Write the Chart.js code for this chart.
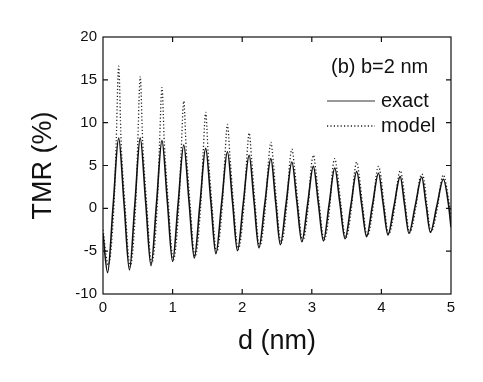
<!DOCTYPE html>
<html>
<head>
<meta charset="utf-8">
<title>TMR vs d</title>
<script src="https://cdn.jsdelivr.net/npm/chart.js@4/dist/chart.umd.min.js"></script>
<style>
  body { margin: 0; background: #fff; }
  #wrap { width: 483px; height: 382px; position: relative; }
</style>
</head>
<body>
<div id="wrap"><canvas id="tmrChart"></canvas></div>
<script>
"use strict";

// thickness d (nm) and TMR (%)
const exactD = [
  0, 0.066, 0.146, 0.225, 0.303,
  0.380, 0.458, 0.535, 0.613,
  0.690, 0.769, 0.847, 0.924,
  1.000, 1.080, 1.160, 1.236,
  1.312, 1.394, 1.475, 1.549,
  1.622, 1.705, 1.788, 1.860,
  1.932, 2.016, 2.100, 2.170,
  2.240, 2.326, 2.412, 2.480,
  2.548, 2.631, 2.714, 2.786,
  2.857, 2.940, 3.022, 3.095,
  3.167, 3.249, 3.330, 3.404,
  3.478, 3.562, 3.645, 3.716,
  3.787, 3.872, 3.958, 4.026,
  4.094, 4.182, 4.270, 4.333,
  4.395, 4.488, 4.580, 4.642,
  4.703, 4.797, 4.890, 4.965, 5.0
];
const exactTMR = [
  -3.0, -7.5, 0.35, 8.2, 0.5,
  -7.2, 0.5, 8.2, 0.75,
  -6.7, 0.6, 7.9, 0.85,
  -6.2, 0.6, 7.4, 0.8,
  -5.8, 0.6, 7.0, 0.85,
  -5.3, 0.65, 6.6, 0.83,
  -4.95, 0.62, 6.2, 0.8,
  -4.6, 0.6, 5.8, 0.78,
  -4.25, 0.57, 5.4, 0.75,
  -3.9, 0.5, 4.9, 0.55,
  -3.8, 0.45, 4.7, 0.58,
  -3.55, 0.37, 4.3, 0.5,
  -3.3, 0.4, 4.1, 0.5,
  -3.1, 0.3, 3.7, 0.4,
  -2.9, 0.37, 3.65, 0.42,
  -2.8, 0.3, 3.4, 0.4, -2.2
];

const modelD = [
  0, 0.076, 0.158, 0.190, 0.225, 0.260, 0.315,
  0.390, 0.470, 0.500, 0.535, 0.570, 0.625,
  0.700, 0.781, 0.812, 0.847, 0.882, 0.936,
  1.010, 1.092, 1.125, 1.160, 1.195, 1.248,
  1.322, 1.406, 1.440, 1.475, 1.510, 1.561,
  1.632, 1.717, 1.753, 1.788, 1.823, 1.872,
  1.942, 2.028, 2.065, 2.100, 2.135, 2.182,
  2.250, 2.338, 2.377, 2.412, 2.447, 2.492,
  2.558, 2.643, 2.679, 2.714, 2.749, 2.798,
  2.867, 2.952, 2.987, 3.022, 3.057, 3.107,
  3.177, 3.261, 3.295, 3.330, 3.365, 3.416,
  3.488, 3.574, 3.610, 3.645, 3.680, 3.728,
  3.797, 3.884, 3.923, 3.958, 3.993, 4.038,
  4.104, 4.194, 4.235, 4.270, 4.305, 4.345,
  4.405, 4.500, 4.545, 4.580, 4.615, 4.654,
  4.713, 4.809, 4.855, 4.890, 4.925, 4.977, 5.0
];
const modelTMR = [
  -2.5, -6.6, 0.4, 7.8, 16.6, 7.8, 0.5,
  -6.8, 0.5, 7.8, 15.4, 7.8, 0.75,
  -6.4, 0.6, 7.5, 14.1, 7.5, 0.85,
  -6.0, 0.6, 7.0, 12.5, 7.0, 0.8,
  -5.6, 0.6, 6.6, 11.2, 6.6, 0.85,
  -5.1, 0.65, 6.2, 9.8, 6.2, 0.83,
  -4.8, 0.62, 5.8, 8.8, 5.8, 0.8,
  -4.45, 0.6, 5.4, 7.7, 5.4, 0.78,
  -4.1, 0.57, 5.0, 6.9, 5.0, 0.75,
  -3.8, 0.5, 4.5, 6.2, 4.5, 0.55,
  -3.7, 0.45, 4.3, 5.8, 4.3, 0.58,
  -3.45, 0.37, 3.9, 5.4, 3.9, 0.5,
  -3.2, 0.4, 3.7, 4.9, 3.7, 0.5,
  -3.0, 0.3, 3.3, 4.4, 3.3, 0.4,
  -2.85, 0.37, 3.25, 4.0, 3.25, 0.42,
  -2.75, 0.3, 3.0, 3.9, 3.0, 0.4, -1.1
];

const xTicks = [0, 1, 2, 3, 4, 5];
const yTicks = [-10, -5, 0, 5, 10, 15, 20];
const panelLabel = "(b) b=2 nm";

const FONT = "Arial, 'Liberation Sans', sans-serif";

function toPoints(xs, ys) {
  let pts = [];
  for (let i = 0; i < xs.length; i++) {
    pts.push({ x: xs[i], y: ys[i] });
  }
  return pts;
}

// frame with inward ticks on all four sides, plus the in-plot legend
const framePlugin = {
  id: "frame",
  afterDraw(chart) {
    const ctx = chart.ctx;
    const area = chart.chartArea;
    const xs = chart.scales.x;
    const ys = chart.scales.y;
    const tick = 5;

    ctx.save();
    ctx.strokeStyle = "#111";
    ctx.lineWidth = 1.2;
    ctx.strokeRect(area.left, area.top, area.right - area.left, area.bottom - area.top);

    ctx.beginPath();
    for (let i = 1; i < xTicks.length - 1; i++) {
      const px = xs.getPixelForValue(xTicks[i]);
      ctx.moveTo(px, area.bottom);
      ctx.lineTo(px, area.bottom - tick);
      ctx.moveTo(px, area.top);
      ctx.lineTo(px, area.top + tick);
    }
    for (let i = 1; i < yTicks.length - 1; i++) {
      const py = ys.getPixelForValue(yTicks[i]);
      ctx.moveTo(area.left, py);
      ctx.lineTo(area.left + tick, py);
      ctx.moveTo(area.right, py);
      ctx.lineTo(area.right - tick, py);
    }
    ctx.stroke();

    // legend
    ctx.fillStyle = "#111";
    ctx.font = "20px " + FONT;
    ctx.textBaseline = "alphabetic";
    ctx.textAlign = "left";
    ctx.fillText(panelLabel, 331, 73);

    const sets = chart.data.datasets;
    const rows = [101, 126];
    for (let i = 0; i < sets.length; i++) {
      const ds = sets[i];
      ctx.beginPath();
      ctx.setLineDash(ds.borderDash || []);
      ctx.strokeStyle = i === 0 ? "#777" : ds.borderColor;
      ctx.lineWidth = i === 0 ? 1.6 : ds.borderWidth;
      ctx.moveTo(327, rows[i]);
      ctx.lineTo(375, rows[i]);
      ctx.stroke();
      ctx.setLineDash([]);
      ctx.fillText(ds.label, 381, rows[i] + 6);
    }
    ctx.restore();
  },
};

const tmrData = {
  datasets: [
    {
      label: "exact",
      data: toPoints(exactD, exactTMR),
      borderColor: "#111",
      borderWidth: 1.6,
      pointRadius: 0,
      cubicInterpolationMode: "monotone",
    },
    {
      label: "model",
      data: toPoints(modelD, modelTMR),
      borderColor: "#222",
      borderWidth: 1.3,
      borderDash: [1.2, 2.2],
      pointRadius: 0,
      cubicInterpolationMode: "monotone",
    },
  ],
};

const tmrConfig = {
  type: "line",
  data: tmrData,
  plugins: [framePlugin],
  options: {
    responsive: true,
    maintainAspectRatio: false,
    animation: false,
    layout: {
      padding: { top: 37, right: 32, left: 0, bottom: 0 },
    },
    plugins: {
      legend: { display: false },
      tooltip: { enabled: false },
    },
    scales: {
      x: {
        type: "linear",
        min: 0,
        max: 5,
        afterBuildTicks: (scale) => {
          scale.ticks = xTicks.map((v) => ({ value: v }));
        },
        afterFit: (scale) => {
          scale.height = 88;
        },
        grid: { display: false, drawTicks: false },
        border: { display: false },
        ticks: {
          padding: 5,
          color: "#111",
          font: { family: FONT, size: 15 },
          maxRotation: 0,
        },
        title: {
          display: true,
          text: "d (nm)",
          color: "#111",
          font: { family: FONT, size: 27 },
          padding: { top: 0, bottom: 24 },
        },
      },
      y: {
        min: -10,
        max: 20,
        afterBuildTicks: (scale) => {
          scale.ticks = yTicks.map((v) => ({ value: v }));
        },
        afterFit: (scale) => {
          scale.width = 103;
        },
        grid: { display: false, drawTicks: false },
        border: { display: false },
        ticks: {
          padding: 6,
          color: "#111",
          font: { family: FONT, size: 15 },
        },
        title: {
          display: true,
          text: "TMR (%)",
          color: "#111",
          font: { family: FONT, size: 27 },
          padding: { top: 27, bottom: 0 },
        },
      },
    },
  },
};

const tmrChart = new Chart(document.getElementById("tmrChart"), tmrConfig);
</script>
</body>
</html>
